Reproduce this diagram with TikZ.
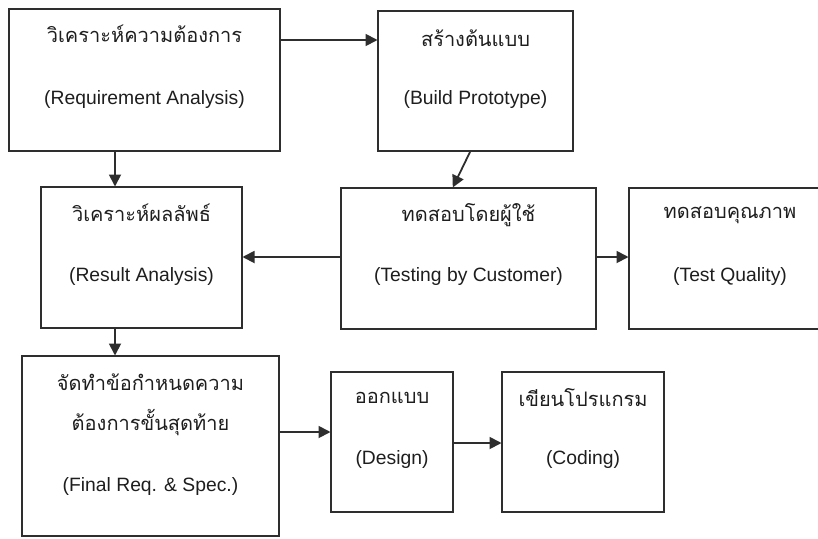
\documentclass[tikz,border=0pt]{standalone}
\usepackage{fontspec}
\setmainfont{Liberation Sans}
\newfontfamily\thaifont[Script=Thai]{Loma}
\usetikzlibrary{arrows.meta,calc}

\definecolor{ink}{HTML}{1E1E1E}
\definecolor{edge}{HTML}{2E2E2E}

\tikzset{
  box/.style={draw=edge, line width=2pt, minimum width=#1, inner sep=0pt},
  th/.style={text=ink, font=\thaifont\fontsize{20}{23}\selectfont, inner sep=0pt, anchor=center},
  en/.style={text=ink, font=\fontsize{19.3}{22}\selectfont, inner sep=0pt, anchor=center},
  arr/.style={draw=edge, line width=1.8pt, -{Triangle[length=12pt,width=12pt]}, shorten >=-0.5pt}
}

\begin{document}
\begin{tikzpicture}[x=1pt,y=-1pt]
  \useasboundingbox (0,0) rectangle (818,538);
  \clip (0,0) rectangle (818,538);
  \fill[white] (0,0) rectangle (818,538);

  % process boxes
  \node[box=271pt, minimum height=142pt] (req)    at (144.5,80)   {};
  \node[box=195pt, minimum height=140pt] (build)  at (475.5,81)   {};
  \node[box=201pt, minimum height=141pt] (result) at (141.5,257.5){};
  \node[box=255pt, minimum height=141pt] (test)   at (468.5,258.5){};
  \node[box=202pt, minimum height=141pt] (qual)   at (730,258.5)  {};
  \node[box=257pt, minimum height=180pt] (final)  at (150.5,446)  {};
  \node[box=122pt, minimum height=140pt] (design) at (392,442)    {};
  \node[box=162pt, minimum height=140pt] (coding) at (583,442)    {};

  % labels
  \node[th] (reqT)    at (144.5,34)  {วิเคราะห์ความต้องการ};
  \node[en] (reqE)    at (144.5,100) {(Requirement Analysis)};
  \node[th] (buildT)  at (475.5,38)  {สร้างต้นแบบ};
  \node[en] (buildE)  at (475.5,100) {(Build Prototype)};
  \node[th] (resultT) at (141.5,213) {วิเคราะห์ผลลัพธ์};
  \node[en] (resultE) at (141.5,277) {(Result Analysis)};
  \node[th] (testT)   at (468.5,215) {ทดสอบโดยผู้ใช้};
  \node[en] (testE)   at (468.5,277) {(Testing by Customer)};
  \node[th] (qualT)   at (730,215)   {ทดสอบคุณภาพ};
  \node[en] (qualE)   at (730,277)   {(Test Quality)};
  \node[th] (finalT1) at (150.5,382) {จัดทำข้อกำหนดความ};
  \node[th] (finalT2) at (150.5,423) {ต้องการขั้นสุดท้าย};
  \node[en] (finalE)  at (150.5,487) {(Final Req. \& Spec.)};
  \node[th] (designT) at (392,398)   {ออกแบบ};
  \node[en] (designE) at (392,460)   {(Design)};
  \node[th] (codingT) at (583,398)   {เขียนโปรแกรม};
  \node[en] (codingE) at (583,460)   {(Coding)};

  % connector end points
  \coordinate (p1) at ($(req.north east)+(0,32)$);
  \coordinate (p2) at ($(req.south west)+(107,0)$);
  \coordinate (p3) at ($(build.south west)+(93,0)$);
  \coordinate (p4) at ($(test.north west)+(113,0)$);
  \coordinate (p5) at ($(result.south west)+(75,0)$);
  \coordinate (p6) at ($(final.north east)+(0,77)$);
  \coordinate (p7) at ($(design.north east)+(0,72)$);
  \coordinate (p8) at ($(test.north west)+(0,70)$);
  \coordinate (p9) at ($(test.north east)+(0,70)$);

  % connectors
  \draw[arr] (p1) -- (p1 -| build.west);
  \draw[arr] (p2) -- (p2 |- result.north);
  \draw[arr] (p3) -- (p4);
  \draw[arr] (p8) -- (p8 -| result.east);
  \draw[arr] (p9) -- (p9 -| qual.west);
  \draw[arr] (p5) -- (p5 |- final.north);
  \draw[arr] (p6) -- (p6 -| design.west);
  \draw[arr] (p7) -- (p7 -| coding.west);
\end{tikzpicture}
\end{document}
